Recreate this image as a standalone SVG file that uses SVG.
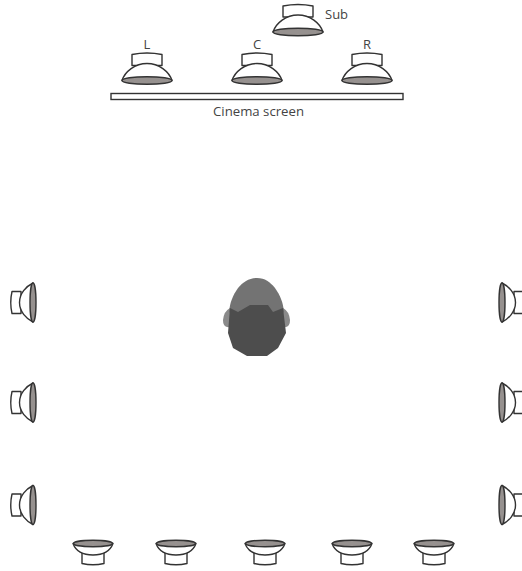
<svg xmlns="http://www.w3.org/2000/svg" width="522" height="571" viewBox="0 0 522 571">
<style>
.o{fill:#fff;stroke:#333;stroke-width:1.4;stroke-linejoin:round}
.g{fill:#96918f;stroke:#333;stroke-width:1.4}
text{font-family:"Open Sans","Noto Sans","Liberation Sans",sans-serif;font-size:13px;fill:#444}
</style>
<defs>
<g id="spk">
<path class="o" d="M-15,-15V-26Q0,-29 15,-26V-15Z"/>
<path class="o" d="M-25,0C-22,-9 -12,-17 0,-17C12,-17 22,-9 25,0Z"/>
<ellipse class="g" cx="0" cy="0" rx="25" ry="3.800"/>
</g>
<g id="spkS">
<path class="o" d="M-11,9V20Q0,22.500 11,20V9Z"/>
<path class="o" d="M-20,0C-17,8 -10,11.500 0,11.500C10,11.500 17,8 20,0Z"/>
<ellipse class="g" cx="0" cy="0" rx="19.500" ry="3.200"/>
</g>
<g id="spkL">
<path class="o" d="M21,-11H12Q9.500,0 12,11H21Z"/>
<path class="o" d="M33,-19.500C26,-16 19.500,-9 19.500,0C19.500,9 26,16 33,19.500Z"/>
<ellipse class="g" cx="33" cy="0" rx="3" ry="19.500"/>
</g>
</defs>
<g id="connectors"/>
<g id="speaker-sub"><use href="#spk" x="298" y="32"/><text x="325" y="19">Sub</text></g>
<g id="speaker-l"><use href="#spk" x="147" y="80.500"/><text x="147" y="49" text-anchor="middle">L</text></g>
<g id="speaker-c"><use href="#spk" x="257" y="80.500"/><text x="257" y="49" text-anchor="middle">C</text></g>
<g id="speaker-r"><use href="#spk" x="367" y="80.500"/><text x="367" y="49" text-anchor="middle">R</text></g>
<g id="screen"><rect x="111" y="93.500" width="292" height="6" fill="#fff" stroke="#333" stroke-width="1.400"/><text x="258.500" y="116" text-anchor="middle" textLength="91" lengthAdjust="spacingAndGlyphs">Cinema screen</text></g>
<g id="head">
<path fill="#8a8a8a" d="M230,308Q224,311 223,320Q223,326 227,327L233,328Z"/>
<path fill="#8a8a8a" d="M283,308Q289,311 290,320Q290,326 286,327L280,328Z"/>
<path fill="#737373" d="M257,278C249,278 243,282 238,288C233,295 230,302 229,312L240,320H274L284,312C283,302 280,295 275,288C270,282 265,278 257,278Z"/>
<path fill="#4d4d4d" d="M230,308L238,312L250,305H268L273,312L283,308L286,333L278,348L267,356H247L233,348L228,333Z"/>
</g>
<g id="speaker-left-1"><use href="#spkL" x="0" y="302.500"/></g>
<g id="speaker-left-2"><use href="#spkL" x="0" y="402.500"/></g>
<g id="speaker-left-3"><use href="#spkL" x="0" y="505"/></g>
<g id="speaker-right-1"><use href="#spkL" transform="translate(535 302.500) scale(-1 1)"/></g>
<g id="speaker-right-2"><use href="#spkL" transform="translate(535 402.500) scale(-1 1)"/></g>
<g id="speaker-right-3"><use href="#spkL" transform="translate(535 505) scale(-1 1)"/></g>
<g id="speaker-back-1"><use href="#spkS" x="93" y="543.500"/></g>
<g id="speaker-back-2"><use href="#spkS" x="176" y="543.500"/></g>
<g id="speaker-back-3"><use href="#spkS" x="265" y="543.500"/></g>
<g id="speaker-back-4"><use href="#spkS" x="352" y="543.500"/></g>
<g id="speaker-back-5"><use href="#spkS" x="434" y="543.500"/></g>
</svg>
